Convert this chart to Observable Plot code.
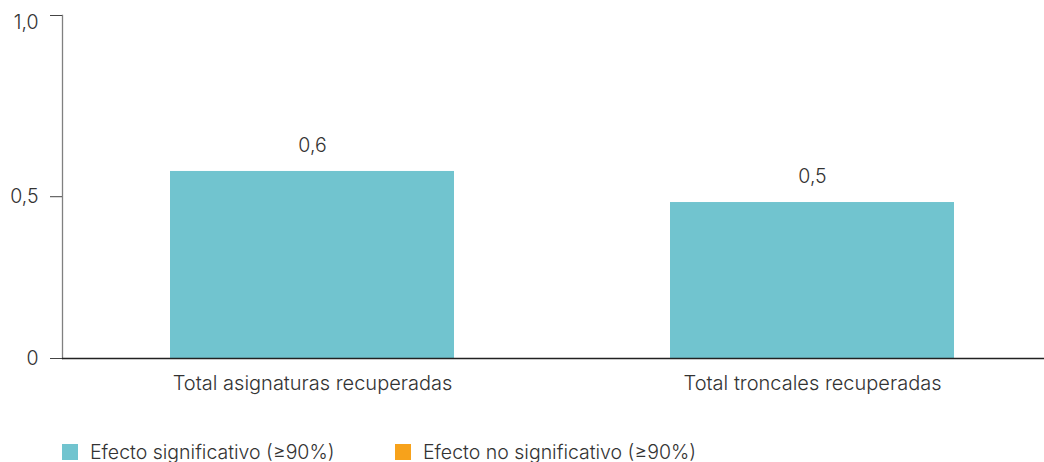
<!DOCTYPE html>
<html>
<head>
<meta charset="utf-8">
<script src="https://cdn.jsdelivr.net/npm/d3@7"></script>
<script src="https://cdn.jsdelivr.net/npm/@observablehq/plot@0.6"></script>
<style>
  body { margin: 0; background: #fff; font-family: Inter, "Open Sans", sans-serif; font-weight: 300; color: #333; }
  #chart svg { display: block; }
  .legend { position: relative; height: 62px; font-size: 19.5px; }
  .legend .item { position: absolute; top: 40px; display: flex; align-items: center; }
  .legend .sw { width: 16px; height: 16px; margin-right: 12px; }
</style>
</head>
<body>
<div id="chart"></div>
<div class="legend" id="legend"></div>
<script>
const categories = ["Total asignaturas recuperadas", "Total troncales recuperadas"];
const values = [0.578, 0.482];
const valueLabels = ["0,6", "0,5"];
const yTickValues = [0, 0.5, 1.06];
const yTickLabels = ["0", "0,5", "1,0"];
const legendLabels = ["Efecto significativo (≥90%)", "Efecto no significativo (≥90%)"];
const legendColors = ["#71C4CF", "#F7A21B"];

const data = categories.map((c, i) => ({cat: c, v: values[i], lab: valueLabels[i]}));
const ticks = yTickValues.map((t, i) => ({t, lab: yTickLabels[i]}));

const chart = Plot.plot({
  width: 1044,
  height: 400,
  marginTop: 15,
  marginBottom: 42,
  marginLeft: 62,
  marginRight: 0,
  style: {fontFamily: "Inter, 'Open Sans', sans-serif", fontWeight: 300, color: "#333", fontSize: "18px"},
  x: {domain: categories, paddingInner: 0.432, paddingOuter: 0.198, align: 0.545, label: null},
  y: {domain: [0, 1.06], label: null},
  marks: [
    Plot.barY(data, {x: "cat", y: "v", fill: legendColors[0]}),
    Plot.text(data, {x: "cat", y: "v", text: "lab", dy: -26, fontSize: 19.5, fill: "#333"}),
    Plot.frame({anchor: "left", stroke: "#808080", strokeWidth: 1.3}),
    Plot.axisY({ticks: yTickValues, tickFormat: () => "", tickSize: 12, stroke: "#444", label: null}),
    Plot.text(ticks.slice(0, 2), {y: "t", text: "lab", frameAnchor: "left", dx: -24, textAnchor: "end", fontSize: 19.5, fill: "#333"}),
    Plot.text(ticks.slice(2), {y: "t", text: "lab", frameAnchor: "left", dx: -24, dy: 7, textAnchor: "end", fontSize: 19.5, fill: "#333"}),
    Plot.ruleY([0], {stroke: "#222", strokeWidth: 1.3}),
    Plot.axisX({tickSize: 0, tickPadding: 17, label: null, fontSize: 20})
  ]
});
document.getElementById("chart").appendChild(chart);

const legend = document.getElementById("legend");
const lefts = [62, 395];
legendLabels.forEach((l, i) => {
  const it = document.createElement("div");
  it.className = "item";
  it.style.left = lefts[i] + "px";
  it.innerHTML = `<div class="sw" style="background:${legendColors[i]}"></div><span>${l}</span>`;
  legend.appendChild(it);
});
</script>
</body>
</html>
